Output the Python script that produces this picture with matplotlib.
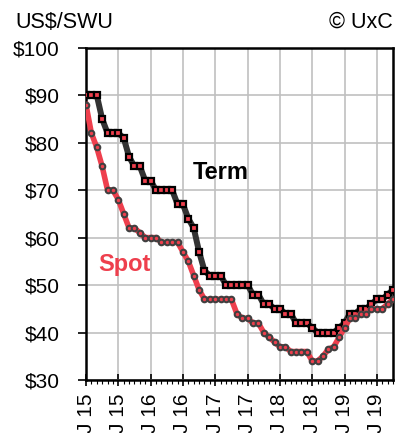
import matplotlib
matplotlib.use("Agg")
import matplotlib.pyplot as plt
from matplotlib.ticker import MultipleLocator

plt.rcParams['font.family'] = ['Liberation Sans', 'DejaVu Sans']

# Monthly prices, Jan 2015 .. Oct 2019 (US$/SWU)
term = [90, 90, 90, 85, 82, 82, 82, 81, 77, 75, 75, 72, 72, 70, 70, 70, 70, 67, 67, 64,
        62, 57, 53, 52, 52, 52, 50, 50, 50, 50, 50, 48, 48, 46, 46, 45, 45, 44, 44, 42,
        42, 42, 41, 40, 40, 40, 40, 41, 42, 44, 44, 45, 45, 46, 47, 47, 48, 49]
spot = [88, 82, 79, 75, 70, 70, 68, 65, 62, 62, 61, 60, 60, 60, 59, 59, 59, 59, 57, 55,
        52, 49, 47, 47, 47, 47, 47, 47, 44, 43, 43, 42, 42, 40, 39, 38, 37, 37, 36, 36,
        36, 36, 34, 34, 35, 36.5, 37, 39, 41, 43, 43, 44, 44, 45, 45, 45, 46, 47]
months = list(range(len(term)))
tick_labels = ["J 15", "J 15", "J 16", "J 16", "J 17", "J 17", "J 18", "J 18", "J 19", "J 19"]
y_ticks = [30, 40, 50, 60, 70, 80, 90, 100]

red = '#ee3f4d'
dark = '#333333'

fig = plt.figure(figsize=(4.0, 4.33), dpi=100)
ax = fig.add_axes([0.215, 0.1224, 0.7675, 0.7674])

ax.plot(months, term, color=dark, lw=4.3, marker='s', ms=4.3, mfc=red, mec='black',
        mew=1.6, zorder=3, solid_joinstyle='round')
ax.plot(months, spot, color=red, lw=4.0, marker='o', ms=4.0, mfc=red, mec='#404040',
        mew=1.5, zorder=4, solid_joinstyle='round')

ax.set_xlim(0, len(term) - 1)
ax.set_ylim(30, 100)
ax.set_yticks(y_ticks)
ax.set_yticklabels([f"${v}" for v in y_ticks], fontsize=15)
ax.set_xticks(range(0, 60, 6))
ax.set_xticklabels(tick_labels, rotation=90, fontsize=15)
ax.xaxis.set_minor_locator(MultipleLocator(1))
ax.tick_params(axis='y', direction='out', length=6, width=1.2, pad=13)
ax.tick_params(axis='x', which='major', direction='inout', length=9, width=1.2, pad=5)
ax.tick_params(axis='x', which='minor', direction='out', length=3, width=0.8)

ax.grid(True, which='major', color='#c0c0c0', lw=1.2)
ax.set_axisbelow(True)
for s in ax.spines.values():
    s.set_linewidth(1.8)
    s.set_color('black')

ax.text(25, 73.7, "Term", fontsize=17, fontweight='bold', color='black', ha='center', va='center')
ax.text(7.1, 54.3, "Spot", fontsize=17, fontweight='bold', color=red, ha='center', va='center')

fig.text(15/400, 1 - 22/433, "US$/SWU", fontsize=15.5, ha='left', va='center')
fig.text(393/400, 1 - 22/433, "© UxC", fontsize=15.5, ha='right', va='center')

fig.savefig("out.png", dpi=100)
